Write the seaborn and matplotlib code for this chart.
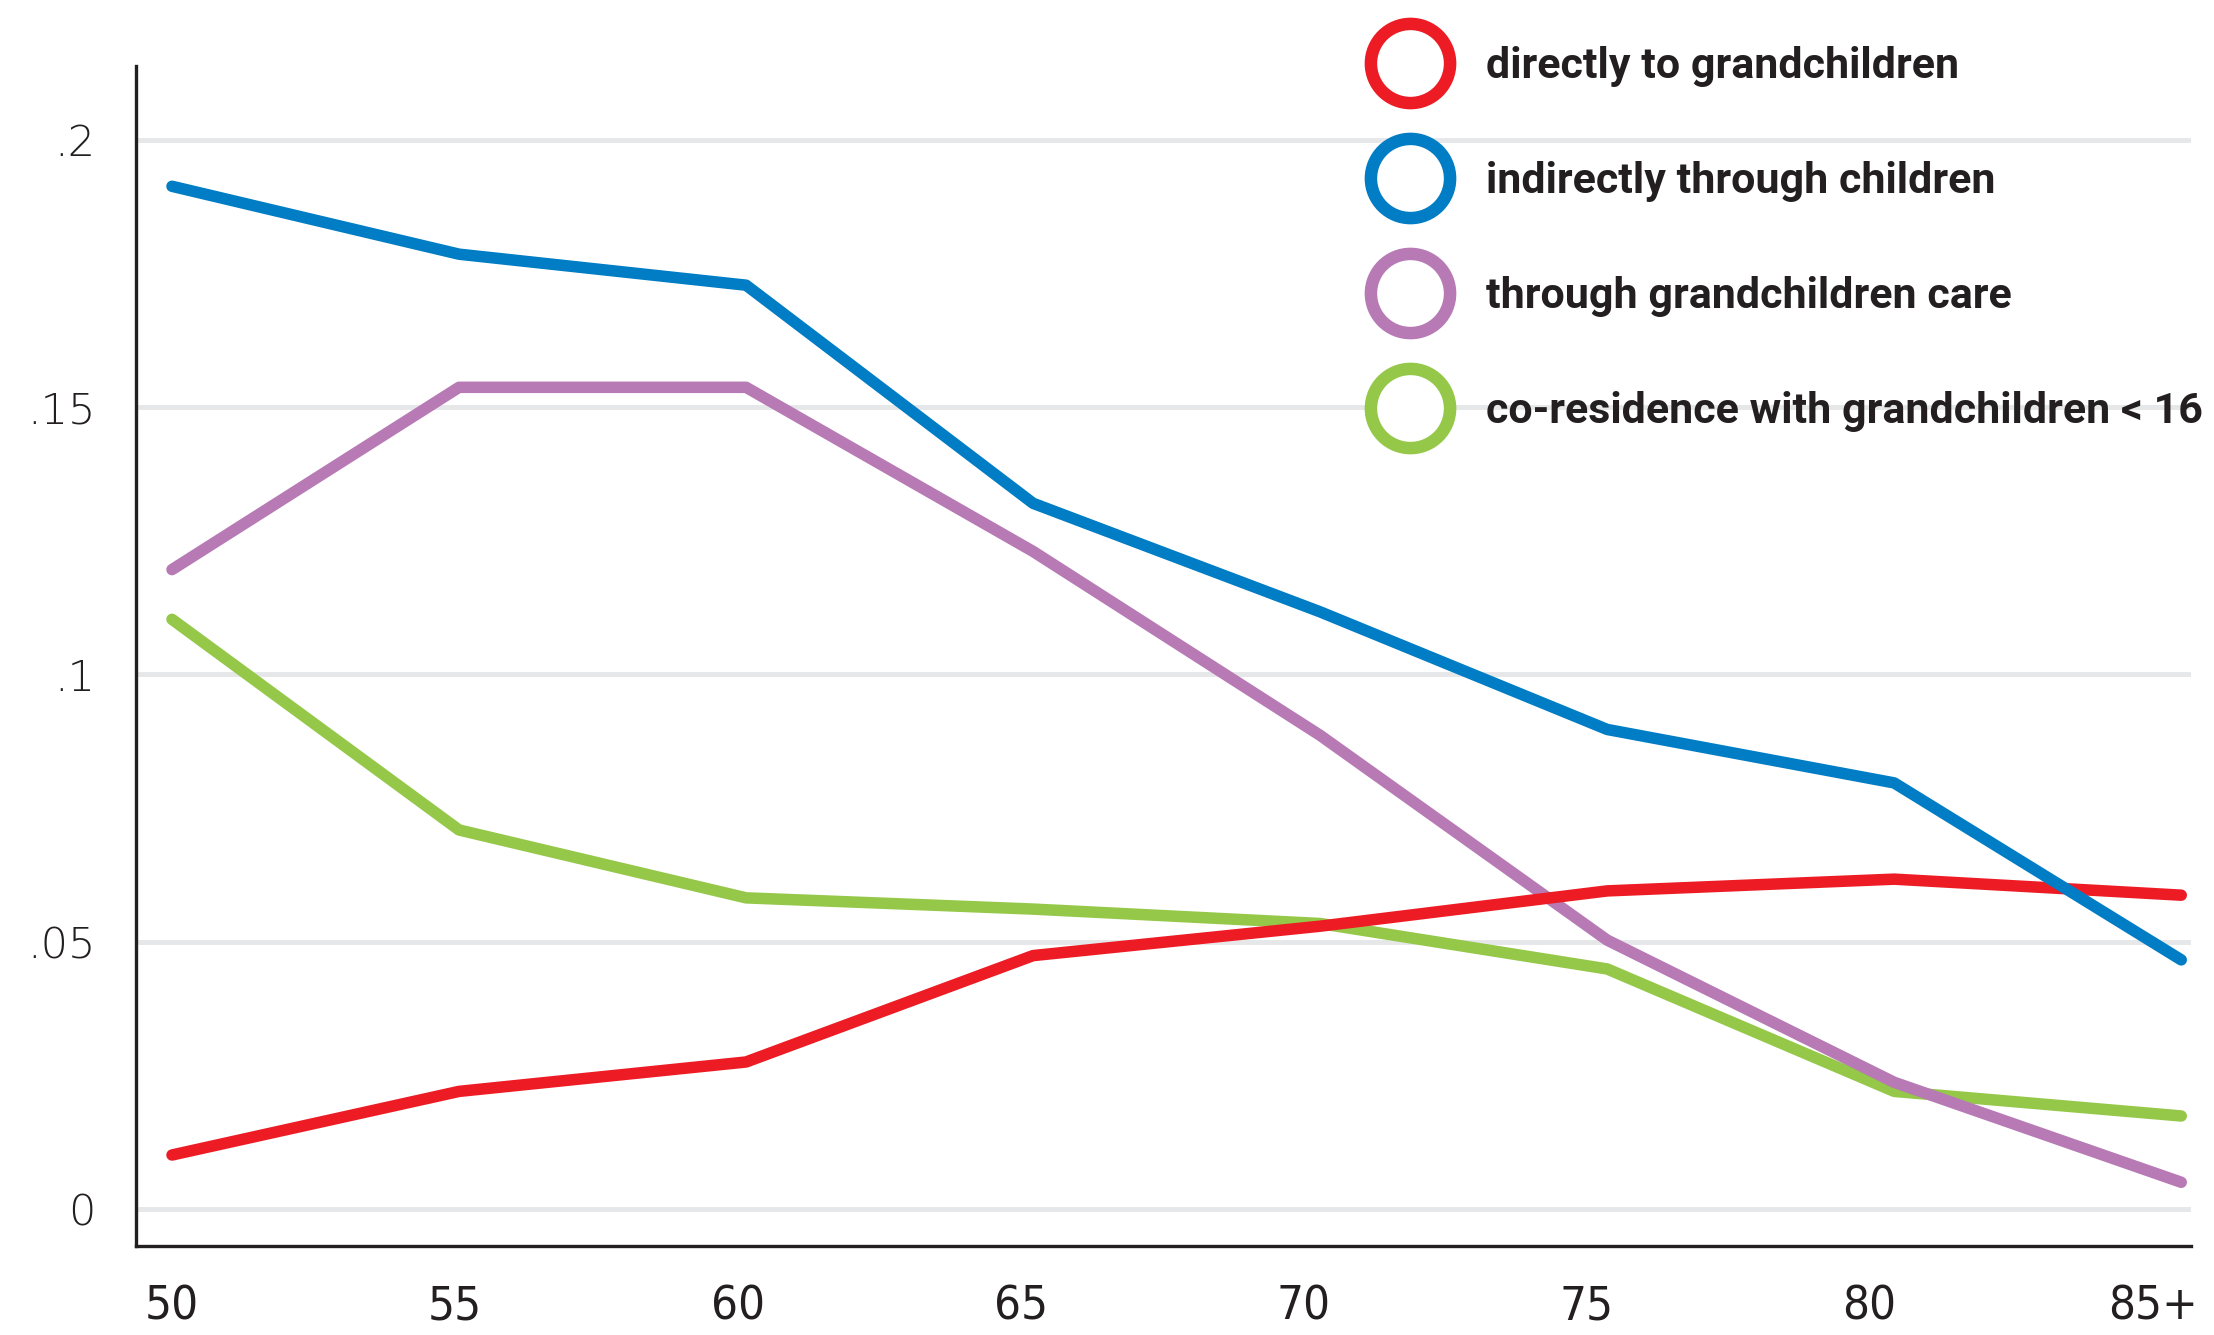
import matplotlib
matplotlib.use("Agg")
import matplotlib.pyplot as plt
from matplotlib import font_manager
from matplotlib.lines import Line2D
from matplotlib.font_manager import FontProperties
import seaborn as sns
import pandas as pd
import numpy as np

# ---- data ----
ages = [50, 55, 60, 65, 70, 75, 80, 85]
age_labels = ["50", "55", "60", "65", "70", "75", "80", "85+"]
directly = [0.0101, 0.0220, 0.0275, 0.0474, 0.0529, 0.0595, 0.0617, 0.0587]
indirectly = [0.1913, 0.1786, 0.1728, 0.1320, 0.1117, 0.0897, 0.0797, 0.0466]
care = [0.1196, 0.1537, 0.1537, 0.1230, 0.0886, 0.0503, 0.0237, 0.0050]
coresidence = [0.1103, 0.0709, 0.0582, 0.0561, 0.0534, 0.0449, 0.0220, 0.0174]
series_names = ["directly to grandchildren", "indirectly through children",
                "through grandchildren care", "co-residence with grandchildren < 16"]
ytick_vals = [0, 0.05, 0.10, 0.15, 0.20]
ytick_labels = ["0", ".05", ".1", ".15", ".2"]

colors = {series_names[0]: "#ed1c24", series_names[1]: "#007dc4",
          series_names[2]: "#b77ab5", series_names[3]: "#95c848"}

df = pd.DataFrame({
    "age": ages * 4,
    "value": directly + indirectly + care + coresidence,
    "series": sum([[s] * len(ages) for s in series_names], []),
})

available = {f.name for f in font_manager.fontManager.ttflist}

# condensed font for x tick labels
if "Liberation Sans Narrow" in available:
    xfont = FontProperties(family="Liberation Sans Narrow", size=36)
else:
    cand = FontProperties(family="DejaVu Sans", stretch="condensed", size=34)
    path = font_manager.findfont(cand)
    if "Condensed" in path:
        xfont = cand
    else:
        xfont = FontProperties(family="Roboto", size=34, weight="light")

legend_font = "Roboto" if "Roboto" in available else "DejaVu Sans"

sns.set_style("white")
plt.rcParams["font.family"] = ["DejaVu Sans"]

dark = "#231f20"
fig = plt.figure(figsize=(22.14, 13.35), dpi=100)
ax = fig.add_axes([136 / 2214, 1 - 1246 / 1335, (2191 - 136) / 2214, (1246 - 66) / 1335])

draw_order = [series_names[3], series_names[2], series_names[0], series_names[1]]
sns.lineplot(data=df, x="age", y="value", hue="series", hue_order=draw_order,
             palette=colors, linewidth=8.3, legend=False, ax=ax, sort=False)
for ln in ax.lines:
    ln.set_solid_capstyle("round")

ax.set_xlim(49.373, 85.17)
ax.set_ylim(-0.00692, 0.2138)

ax.yaxis.grid(True, color="#e6e7e8", linewidth=3.5)
ax.xaxis.grid(False)
ax.set_axisbelow(True)

for s in ["top", "right"]:
    ax.spines[s].set_visible(False)
for s in ["left", "bottom"]:
    ax.spines[s].set_color(dark)
    ax.spines[s].set_linewidth(2.4)

ax.set_yticks(ytick_vals)
ax.set_yticklabels(ytick_labels)
tick_pos = [50 + (a - 50) * 0.9857 for a in ages]
ax.set_xticks(tick_pos)
ax.set_xticklabels(age_labels)
ax.tick_params(axis="y", length=17, width=2, color=dark, pad=12,
               labelsize=31, labelcolor=dark)
ax.tick_params(axis="x", length=17, width=2, color=dark, pad=11,
               labelcolor=dark)
for lbl in ax.get_yticklabels():
    lbl.set_fontweight("light")
for lbl in ax.get_xticklabels():
    lbl.set_fontproperties(xfont)
ax.set_xlabel("")
ax.set_ylabel("")

handles = [Line2D([], [], linestyle="none", marker="o", markersize=57,
                  markerfacecolor="white", markeredgecolor=colors[s],
                  markeredgewidth=9) for s in series_names]
fig.legend(handles, series_names, loc="upper left",
           bbox_to_anchor=(1388 / 2214, 1 - 46 / 1335),
           bbox_transform=fig.transFigure, frameon=False,
           prop=FontProperties(family=legend_font, weight="bold", size=31),
           labelcolor=dark, handlelength=1.0, handleheight=0.7,
           handletextpad=1.28, labelspacing=1.72, borderpad=0, borderaxespad=0)

fig.savefig("out.png", dpi=100)
